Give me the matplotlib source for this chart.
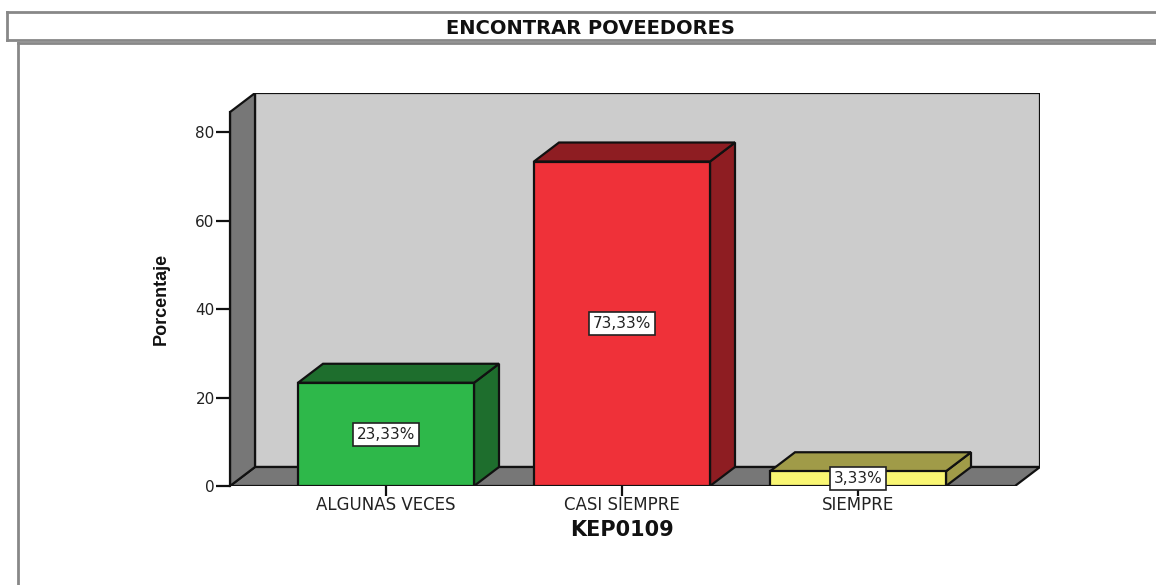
import matplotlib
matplotlib.use("Agg")
import matplotlib.pyplot as plt
from matplotlib.patches import Polygon, Rectangle
from matplotlib.lines import Line2D

categories = ["ALGUNAS VECES", "CASI SIEMPRE", "SIEMPRE"]
values = [23.33, 73.33, 3.33]
labels = ["23,33%", "73,33%", "3,33%"]
yticks = [0, 20, 40, 60, 80]
title = "ENCONTRAR POVEEDORES"
xlabel = "KEP0109"
ylabel = "Porcentaje"

front_colors = ["#2eb84a", "#ef3139", "#f9f673"]
dark_colors = ["#1e6e2d", "#8e1d22", "#a09b48"]

W, H = 1156, 585
fig = plt.figure(figsize=(W / 100, H / 100), dpi=100)

# frames
fl = fig.add_axes([0, 0, 1, 1])
fl.set_xlim(0, W); fl.set_ylim(H, 0); fl.axis("off")
fl.add_line(Line2D([7, W + 5], [12, 12], color="#888888", lw=2))
fl.add_line(Line2D([7, W + 5], [40, 40], color="#888888", lw=2))
fl.add_line(Line2D([7, 7], [12, 40], color="#888888", lw=2))
fl.add_line(Line2D([18, W + 5], [43, 43], color="#888888", lw=2))
fl.add_line(Line2D([18, 18], [43, H + 5], color="#888888", lw=2))
fl.text(590, 28, title, ha="center", va="center", fontsize=14, fontweight="bold",
        family="DejaVu Sans", color="#111111")

# main axes
x0, x1 = -156 / 236, 654 / 236
ytop = 393 / 4.425
ax = fig.add_axes([230 / W, (H - 486) / H, 810 / W, 393 / H])
ax.set_xlim(x0, x1)
ax.set_ylim(0, ytop)
ax.patch.set_visible(False)
for s in ["top", "right", "bottom"]:
    ax.spines[s].set_visible(False)

DX = 25 / 236
DY = 19 / 4.425
xf0, xf1 = x0, 629 / 236
yf = 84.5
ek = dict(edgecolor="#111111", lw=1.6, joinstyle="miter")

ax.add_patch(Polygon([(xf0 + DX, DY), (xf1 + DX, DY), (xf1 + DX, yf + DY), (xf0 + DX, yf + DY)],
                     closed=True, facecolor="#cccccc", zorder=1, **ek))
ax.add_patch(Polygon([(xf0, 0), (xf1, 0), (xf1 + DX, DY), (xf0 + DX, DY)],
                     closed=True, facecolor="#777777", zorder=1.1, **ek))
ax.add_patch(Polygon([(xf0, 0), (xf0 + DX, DY), (xf0 + DX, yf + DY), (xf0, yf)],
                     closed=True, facecolor="#777777", zorder=1.1, **ek))

bw = 176 / 236
for i, (v, fc, dc) in enumerate(zip(values, front_colors, dark_colors)):
    l, r = i - bw / 2, i + bw / 2
    ax.add_patch(Polygon([(r, 0), (r + DX, DY), (r + DX, v + DY), (r, v)], closed=True,
                         facecolor=dc, zorder=2, **ek))
    ax.add_patch(Polygon([(l, v), (r, v), (r + DX, v + DY), (l + DX, v + DY)], closed=True,
                         facecolor=dc, zorder=2, **ek))
    ax.add_patch(Rectangle((l, 0), bw, v, facecolor=fc, zorder=3, **ek))
    ax.text(i, v / 2, labels[i], ha="center", va="center", fontsize=11, zorder=5,
            family="DejaVu Sans", color="#222222",
            bbox=dict(boxstyle="square,pad=0.25", facecolor="white", edgecolor="#222222", lw=1.2))

ax.set_xticks(range(len(categories)))
ax.set_xticklabels(categories, fontsize=12, family="DejaVu Sans", color="#222222")
ax.set_yticks(yticks)
ax.set_yticklabels([str(t) for t in yticks], fontsize=11, family="DejaVu Sans", color="#222222")
ax.tick_params(axis="y", length=10, width=1.6, color="#111111", pad=1)
ax.tick_params(axis="x", length=7, width=1.6, color="#111111", pad=0, direction="out")
ax.spines["left"].set_bounds(0, yf)
ax.spines["left"].set_linewidth(1.6)
ax.spines["left"].set_color("#111111")

ax.set_xlabel(xlabel, fontsize=15, fontweight="bold", family="DejaVu Sans", color="#111111")
ax.xaxis.set_label_coords((622 - 230) / 810, -(520 - 486) / 393)
ax.set_ylabel(ylabel, fontsize=13, fontweight="bold", family="Liberation Sans", color="#111111")
ax.yaxis.set_label_coords(-60 / 810, (486 - 299) / 393)

fig.savefig("out.png", dpi=100)
